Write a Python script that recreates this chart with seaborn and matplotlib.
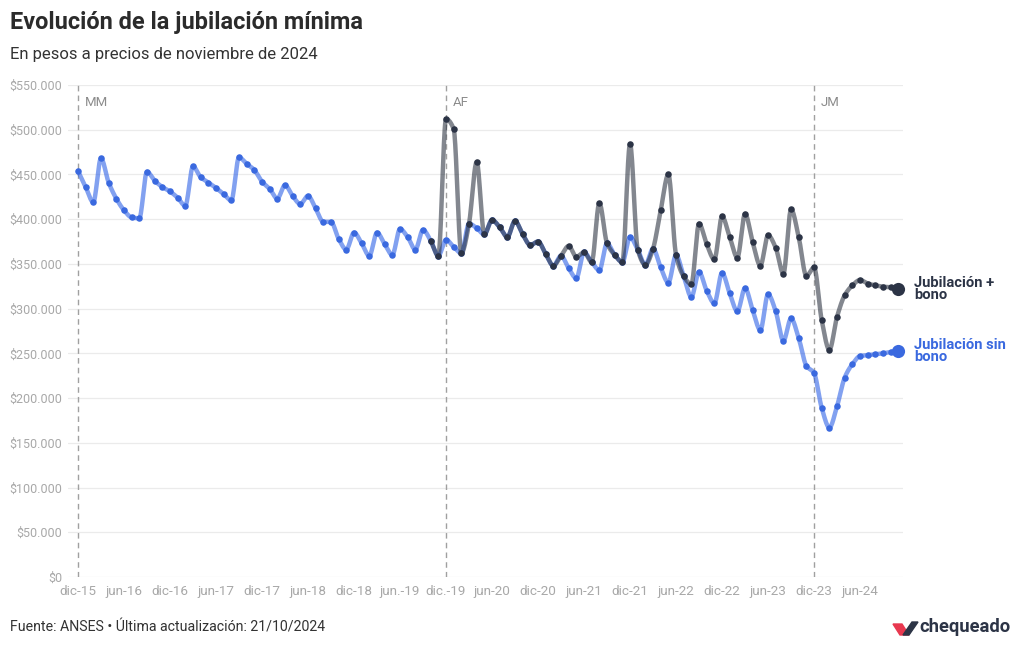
import numpy as np
import pandas as pd
import matplotlib
matplotlib.use("Agg")
import matplotlib.pyplot as plt
from matplotlib.patches import Polygon
import seaborn as sns

# ---------------- data (thousands of pesos, Nov-2024 prices) ----------------
month_index = list(range(108))  # dic-15 .. nov-24
sin_bono = [454, 436, 419, 468, 441, 423, 410, 402, 401, 453, 443, 436,
            431, 424, 415, 459, 447, 441, 435, 428, 421, 469, 462, 455,
            442, 434, 423, 438, 426, 417, 426, 412, 397, 397, 378, 366,
            385, 373, 359, 385, 372, 360, 389, 380, 366, 388, 376, 359,
            377, 369, 362, 395, 390, 383, 399, 391, 380, 398, 383, 371,
            375, 361, 348, 359, 345, 334, 363, 352, 343, 373, 360, 352,
            380, 366, 349, 367, 346, 329, 360, 336, 313, 341, 320, 306,
            340, 317, 297, 323, 298, 276, 316, 297, 264, 289, 267, 236,
            228, 189, 167, 191, 223, 238, 247, 248, 249, 250, 251.5, 252.3]
con_bono_start = 46
con_bono = [376, 359, 512, 501, 362, 395, 464, 383, 399, 391, 380, 398,
            383, 371, 375, 361, 348, 359, 370, 358, 363, 352, 418, 373,
            360, 352, 484, 366, 349, 367, 410, 450, 360, 336, 327.5, 395,
            372, 355, 403, 380, 357, 406, 374, 348, 382, 368, 339, 411,
            380, 336.5, 346, 287, 254, 291, 315, 326, 332, 328, 326, 324.5,
            324, 322.3]
tick_pos = list(range(0, 108, 6))
tick_labels = ["dic-15", "jun-16", "dic-16", "jun-17", "dic-17", "jun-18",
               "dic-18", "jun.-19", "dic.-19", "jun-20", "dic-20", "jun-21",
               "dic-21", "jun-22", "dic-22", "jun-23", "dic-23", "jun-24"]
periods = [(0, "MM"), (48, "AF"), (96, "JM")]
y_ticks = list(range(0, 550001, 50000))

# ---------------- helpers ----------------
def pchip(x, y, xn):
    x = np.asarray(x, float); y = np.asarray(y, float)
    h = np.diff(x); delta = np.diff(y) / h
    n = len(x); d = np.zeros(n)
    for k in range(1, n - 1):
        if delta[k - 1] * delta[k] > 0:
            w1 = 2 * h[k] + h[k - 1]; w2 = h[k] + 2 * h[k - 1]
            d[k] = (w1 + w2) / (w1 / delta[k - 1] + w2 / delta[k])
    d[0] = delta[0]; d[-1] = delta[-1]
    idx = np.clip(np.searchsorted(x, xn) - 1, 0, n - 2)
    t = (xn - x[idx]) / h[idx]
    h00 = 2 * t**3 - 3 * t**2 + 1; h10 = t**3 - 2 * t**2 + t
    h01 = -2 * t**3 + 3 * t**2; h11 = t**3 - t**2
    return h00 * y[idx] + h10 * h[idx] * d[idx] + h01 * y[idx + 1] + h11 * h[idx] * d[idx + 1]

def fmt_money(v):
    return "$" + f"{int(v):,}".replace(",", ".")

sns.set_theme(style="white")
plt.rcParams["font.family"] = ["Roboto", "DejaVu Sans"]

BLUE_DOT = "#3a69df"
BLUE_LINE = "#2f62e6"
DARK = "#2c3446"
GRAY_TXT = "#a8a8a8"

df_sin = pd.DataFrame({"m": month_index, "v": np.array(sin_bono) * 1000})
m_con = month_index[con_bono_start:]
df_con = pd.DataFrame({"m": m_con, "v": np.array(con_bono) * 1000})

xs = np.linspace(0, 107, 1500)
df_sin_s = pd.DataFrame({"m": xs, "v": pchip(df_sin.m, df_sin.v, xs)})
xs2 = np.linspace(con_bono_start, 107, 1200)
df_con_s = pd.DataFrame({"m": xs2, "v": pchip(df_con.m, df_con.v, xs2)})

fig = plt.figure(figsize=(10.2, 6.5), dpi=100)
ax = fig.add_axes([68 / 1020, 1 - 577 / 650, (903 - 68) / 1020, (577 - 85) / 650])

for yv in y_ticks:
    ax.axhline(yv, color="#ebebeb", lw=0.9, zorder=0)

for xm, lab in periods:
    ax.axvline(xm, color="#a0a0a0", lw=1, ls=(0, (4, 3)), zorder=1)
    ax.text(xm + 0.9, 530000, lab, color="#8c8c8c", fontsize=9.5, va="center", ha="left")

sns.lineplot(data=df_sin_s, x="m", y="v", ax=ax, color=BLUE_LINE, alpha=0.6, lw=3.2,
             zorder=2, solid_capstyle="round")
sns.scatterplot(data=df_sin, x="m", y="v", ax=ax, color=BLUE_DOT, s=22, linewidth=0, zorder=3)
sns.lineplot(data=df_con_s, x="m", y="v", ax=ax, color="#222a38", alpha=0.56, lw=3.2,
             zorder=4, solid_capstyle="round")
sns.scatterplot(data=df_con, x="m", y="v", ax=ax, color=DARK, s=22, linewidth=0, zorder=5)

# end points
ax.scatter([df_sin.m.iloc[-1]], [df_sin.v.iloc[-1]], s=90, color=BLUE_DOT, zorder=6, clip_on=False, linewidths=0)
ax.scatter([df_con.m.iloc[-1]], [df_con.v.iloc[-1]], s=90, color=DARK, zorder=6, clip_on=False, linewidths=0)

ax.set_xlim(-1.3, 107.6)
ax.set_ylim(0, 550000)
ax.set_xticks(tick_pos)
ax.set_xticklabels(tick_labels)
ax.set_xticks(month_index, minor=True)
ax.set_yticks(y_ticks)
ax.set_yticklabels([fmt_money(v) for v in y_ticks])
ax.tick_params(axis="y", length=0, pad=4, labelsize=9, labelcolor=GRAY_TXT)
ax.tick_params(axis="x", which="both", direction="in", length=4, width=0.8, color="#e0e0e0",
               labelsize=9.7, labelcolor=GRAY_TXT, pad=6)
ax.set_xlabel(""); ax.set_ylabel("")
for s in ax.spines.values():
    s.set_visible(False)
ax.set_facecolor("none")

# end labels
fig.text(914 / 1020, 1 - 289 / 650, "Jubilación +\nbono", color=DARK, fontsize=10.6, fontweight="bold",
         va="center", ha="left", linespacing=0.82)
fig.text(914 / 1020, 1 - 351 / 650, "Jubilación sin\nbono", color=BLUE_DOT, fontsize=10.6, fontweight="bold",
         va="center", ha="left", linespacing=0.82)

# titles
fig.text(10 / 1020, 1 - 23 / 650, "Evolución de la jubilación mínima", fontsize=16.9, fontweight="bold",
         color="#2b2b2b", va="center", ha="left")
fig.text(10 / 1020, 1 - 54 / 650, "En pesos a precios de noviembre de 2024", fontsize=12,
         color="#333333", va="center", ha="left")
fig.text(10 / 1020, 1 - 627 / 650, "Fuente: ANSES • Última actualización: 21/10/2024", fontsize=10.15,
         color="#333333", va="center", ha="left")

# logo
def fpts(pts):
    return [(px / 1020, 1 - py / 650) for px, py in pts]
fig.patches.append(Polygon(fpts([(893, 624), (902, 624), (909, 635), (900, 635)]), closed=True,
                           color="#e8384f", transform=fig.transFigure, figure=fig))
fig.patches.append(Polygon(fpts([(903, 635), (909, 635), (918, 622), (912, 622)]), closed=True,
                           color=DARK, transform=fig.transFigure, figure=fig))
fig.text(919 / 1020, 1 - 627 / 650, "chequeado", fontsize=13.2, fontweight="bold", color=DARK,
         va="center", ha="left")

fig.savefig("out.png", dpi=100)
